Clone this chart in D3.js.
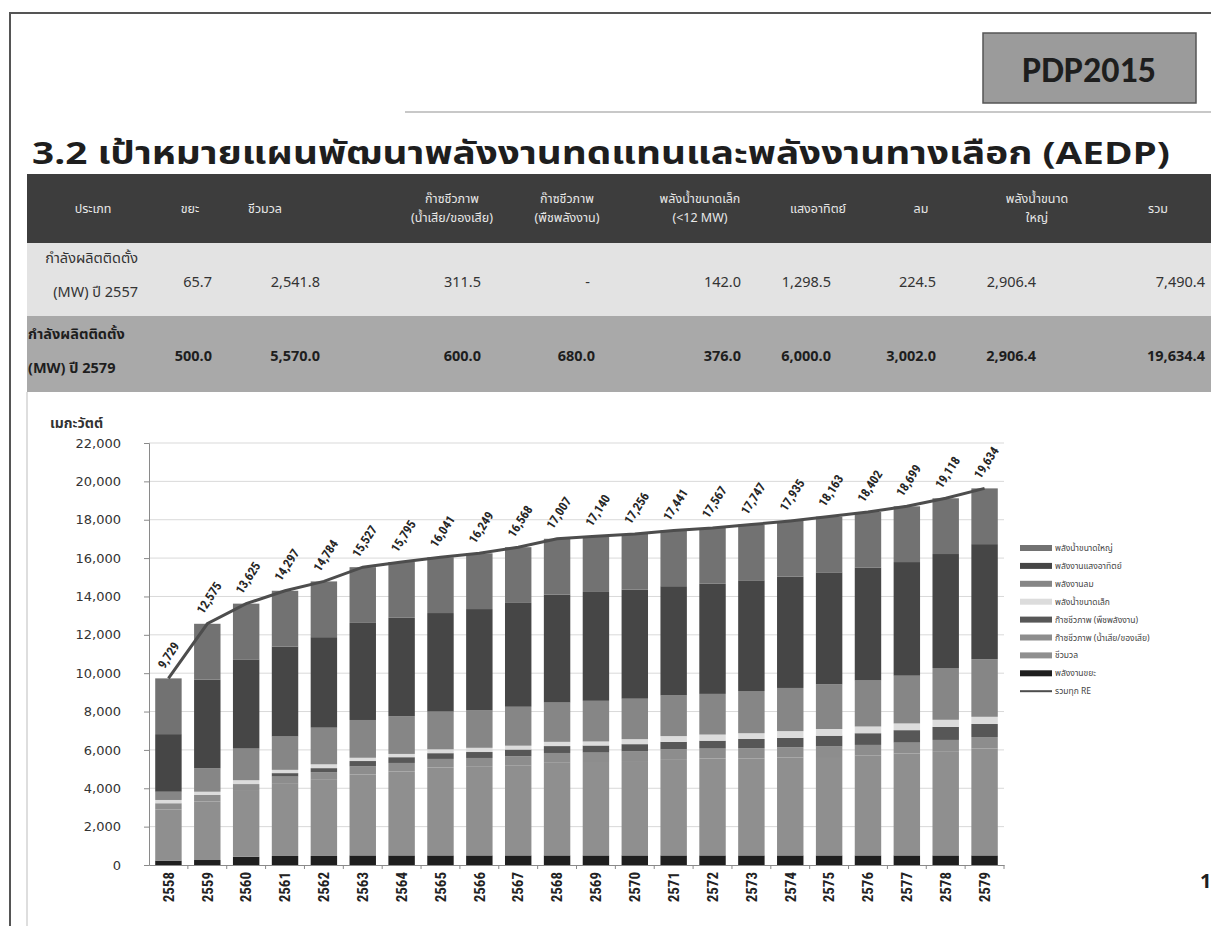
<!DOCTYPE html>
<html>
<head>
<meta charset="utf-8">
<script src="https://cdn.jsdelivr.net/npm/d3@7"></script>
<style>
  body { margin: 0; background: #fff; }
  svg { display: block; }
  text { font-family: Tahoma, "Noto Sans Thai", "Noto Sans", "DejaVu Sans", sans-serif; }
</style>
</head>
<body>
<div id="wrapper"></div>
<script>
// ---- data ----
const years = ["2558","2559","2560","2561","2562","2563","2564","2565","2566","2567","2568",
               "2569","2570","2571","2572","2573","2574","2575","2576","2577","2578","2579"]

// total RE (MW), the labels on the line
const totals = [9729,12575,13625,14297,14784,15527,15795,16041,16249,16568,17007,
                17140,17256,17441,17567,17747,17935,18163,18402,18699,19118,19634]

// stacked layers, bottom to top (MW, estimated from the bars)
const waste      = [230,260,430,470,470,500,500,500,500,500,500,500,500,500,500,500,500,500,500,500,500,500]
const biomass    = [2670,3050,3430,3760,3970,4220,4380,4580,4620,4700,4860,4870,4920,5020,5050,5060,5100,5130,5200,5310,5435,5570]
const biogasWW   = [320,340,360,380,400,420,440,450,460,470,480,490,500,510,520,530,540,550,560,570,585,600]
const biogasCrop = [0,0,0,180,210,280,300,300,310,350,360,370,380,390,410,480,490,560,610,650,680,680]
const smallHydro = [170,170,200,170,200,170,170,200,220,200,220,210,260,300,320,300,350,350,350,350,370,376]
const wind       = [430,1220,1650,1740,1910,1970,1970,1970,1950,2030,2050,2120,2110,2120,2120,2200,2250,2330,2400,2490,2700,3002]
const solar      = [3003,4629,4649,4691,4718,5061,5129,5135,5283,5412,5631,5674,5680,5695,5741,5771,5799,5837,5876,5923,5942,6000]
const largeHydro = [2906,2906,2906,2906,2906,2906,2906,2906,2906,2906,2906,2906,2906,2906,2906,2906,2906,2906,2906,2906,2906,2906]

const layerKeys   = ["waste","biomass","biogasWW","biogasCrop","smallHydro","wind","solar","largeHydro"]
const layerValues = [waste, biomass, biogasWW, biogasCrop, smallHydro, wind, solar, largeHydro]
const layerNames  = ["พลังงานขยะ","ชีวมวล","ก๊าซชีวภาพ (น้ำเสีย/ของเสีย)","ก๊าซชีวภาพ (พืชพลังงาน)",
                     "พลังน้ำขนาดเล็ก","พลังงานลม","พลังงานแสงอาทิตย์","พลังน้ำขนาดใหญ่"]
const totalName = "รวมทุก RE"

const yTicks = [0,2000,4000,6000,8000,10000,12000,14000,16000,18000,20000,22000]

// table above the chart
const tableHeaders = [["ประเภท"],["ขยะ"],["ชีวมวล"],["ก๊าซชีวภาพ","(น้ำเสีย/ของเสีย)"],["ก๊าซชีวภาพ","(พืชพลังงาน)"],
                      ["พลังน้ำขนาดเล็ก","(<12 MW)"],["แสงอาทิตย์"],["ลม"],["พลังน้ำขนาด","ใหญ่"],["รวม"]]
const row2557Label = ["กำลังผลิตติดตั้ง","(MW) ปี 2557"]
const row2557 = ["65.7","2,541.8","311.5","-","142.0","1,298.5","224.5","2,906.4","7,490.4"]
const row2579Label = ["กำลังผลิตติดตั้ง","(MW) ปี 2579"]
const row2579 = ["500.0","5,570.0","600.0","680.0","376.0","6,000.0","3,002.0","2,906.4","19,634.4"]

// ---- drawing ----
function drawSlide() {
  const width = 1211
  const height = 926

  const svg = d3.select("#wrapper").append("svg")
      .attr("width", width)
      .attr("height", height)

  // slide frame
  svg.append("line").attr("x1", 9).attr("x2", width).attr("y1", 13).attr("y2", 13)
      .attr("stroke", "#555").attr("stroke-width", 2)
  svg.append("line").attr("x1", 10).attr("x2", 10).attr("y1", 13).attr("y2", height)
      .attr("stroke", "#555").attr("stroke-width", 2)
  svg.append("line").attr("x1", 405).attr("x2", width).attr("y1", 112).attr("y2", 112)
      .attr("stroke", "#c8c8c8").attr("stroke-width", 2)

  // PDP2015 badge
  svg.append("rect").attr("x", 983).attr("y", 33).attr("width", 213).attr("height", 70)
      .attr("fill", "#9b9b9b").attr("stroke", "#555").attr("stroke-width", 1.5)
  svg.append("text").attr("x", 1089).attr("y", 82).attr("text-anchor", "middle")
      .attr("font-size", 36).attr("font-weight", "bold").attr("fill", "#1e1e1e")
      .style("font-family", "Calibri, Carlito, 'Open Sans', sans-serif")
      .text("PDP2015")

  // title
  svg.append("text").attr("x", 32).attr("y", 164)
      .attr("font-size", 31).attr("font-weight", "bold").attr("fill", "#1e1e1e")
      .attr("textLength", 1138).attr("lengthAdjust", "spacingAndGlyphs")
      .text("3.2 เป้าหมายแผนพัฒนาพลังงานทดแทนและพลังงานทางเลือก (AEDP)")

  // ---- table ----
  const tableLeft = 27
  const rows = [{ y: 174, h: 69, fill: "#3d3d3d" }, { y: 243, h: 73, fill: "#e3e3e3" }, { y: 316, h: 76, fill: "#a9a9a9" }]
  rows.forEach(r => svg.append("rect").attr("x", tableLeft).attr("y", r.y)
      .attr("width", width - tableLeft).attr("height", r.h).attr("fill", r.fill))

  const headerCenters = [93, 190, 265, 452, 567, 700, 818, 921, 1037, 1158]
  const valueRights = [212, 320, 481, 595, 741, 831, 936, 1036, 1205]

  const header = svg.append("g").attr("fill", "#e8e8e8").attr("font-size", 12.5)
  tableHeaders.forEach((lines, i) => {
    const y0 = lines.length === 1 ? 213 : 203
    lines.forEach((ln, j) => header.append("text")
        .attr("x", headerCenters[i]).attr("y", y0 + j * 19)
        .attr("text-anchor", "middle").text(ln))
  })

  const r1 = svg.append("g").attr("fill", "#333").attr("font-size", 14.5)
  row2557Label.forEach((ln, j) => r1.append("text").attr("x", 138).attr("y", 263 + j * 34)
      .attr("text-anchor", "end").text(ln))
  row2557.forEach((v, i) => r1.append("text")
      .attr("x", v === "-" ? valueRights[i] - 5 : valueRights[i]).attr("y", 287)
      .attr("text-anchor", "end").text(v))

  const r2 = svg.append("g").attr("fill", "#1e1e1e").attr("font-size", 14.5).attr("font-weight", "bold")
  row2579Label.forEach((ln, j) => r2.append("text").attr("x", 28).attr("y", 339 + j * 34)
      .attr("text-anchor", "start").text(ln))
  row2579.forEach((v, i) => r2.append("text").attr("x", valueRights[i]).attr("y", 361)
      .attr("text-anchor", "end").text(v))

  // chart box left edge
  svg.append("line").attr("x1", 27).attr("x2", 27).attr("y1", 392).attr("y2", height)
      .attr("stroke", "#bdbdbd")

  // ---- chart ----
  const dimensions = {
    margin: { top: 443, left: 149 },
    boundedWidth: 855,
    boundedHeight: 422,
  }

  const bounds = svg.append("g")
      .attr("transform", `translate(${dimensions.margin.left},${dimensions.margin.top})`)

  const xScale = d3.scaleBand()
      .domain(years)
      .range([0, dimensions.boundedWidth])
      .paddingInner(0.32)
      .paddingOuter(0.16)

  const yScale = d3.scaleLinear()
      .domain([0, 22000])
      .range([dimensions.boundedHeight, 0])

  // gridlines
  bounds.append("g")
    .selectAll("line")
    .data(yTicks.slice(1))
    .join("line")
      .attr("x1", 0).attr("x2", dimensions.boundedWidth)
      .attr("y1", d => yScale(d)).attr("y2", d => yScale(d))
      .attr("stroke", "#d9d9d9")

  // stack the layers
  const rowsData = years.map((yr, i) => {
    const o = { year: yr }
    layerKeys.forEach((k, j) => o[k] = layerValues[j][i])
    return o
  })
  const stacked = d3.stack().keys(layerKeys)(rowsData)

  // greys of the scanned slide; biomass and wastewater biogas look alike there
  const colorScale = d3.scaleOrdinal()
      .domain(layerKeys)
      .range(["#1f1f1f", "#8f8f8f", "#8d8d8d", "#575757", "#dcdcdc", "#868686", "#464646", "#727272"])

  bounds.append("g")
    .selectAll("g")
    .data(stacked)
    .join("g")
      .attr("fill", d => colorScale(d.key))
    .selectAll("rect")
    .data(d => d)
    .join("rect")
      .attr("x", d => xScale(d.data.year))
      .attr("y", d => yScale(d[1]))
      .attr("width", xScale.bandwidth())
      .attr("height", d => yScale(d[0]) - yScale(d[1]))

  // total line
  const lineGenerator = d3.line()
      .x((d, i) => xScale(years[i]) + xScale.bandwidth() / 2)
      .y(d => yScale(d))

  bounds.append("path")
      .datum(totals)
      .attr("d", lineGenerator)
      .attr("fill", "none")
      .attr("stroke", "#4d4d4d")
      .attr("stroke-width", 3)

  bounds.append("g")
    .selectAll("text")
    .data(totals)
    .join("text")
      .attr("transform", (d, i) => `translate(${xScale(years[i]) + xScale.bandwidth() / 2 - 4},${yScale(d) - 9}) rotate(-57)`)
      .attr("font-size", 12.5)
      .attr("font-weight", "bold")
      .attr("fill", "#262626")
      .style("font-family", "'Liberation Sans Narrow', 'Roboto Condensed', 'DejaVu Sans Condensed', sans-serif")
      .text(d => d3.format(",")(d))

  // y axis
  const yAxisGenerator = d3.axisLeft(yScale)
      .tickValues(yTicks)
      .tickFormat(d3.format(","))
      .tickSize(5)
      .tickPadding(23)

  const yAxis = bounds.append("g").call(yAxisGenerator)
  yAxis.select(".domain").attr("stroke", "#8a8a8a")
  yAxis.selectAll(".tick line").attr("stroke", "#8a8a8a")
  yAxis.selectAll("text")
      .attr("font-size", 13)
      .attr("fill", "#333")
      .style("font-family", "Verdana, 'DejaVu Sans', sans-serif")

  svg.append("text").attr("x", 50).attr("y", 428)
      .attr("font-size", 14).attr("font-weight", "bold").attr("fill", "#333")
      .text("เมกะวัตต์")

  // x axis
  const xAxisGenerator = d3.axisBottom(xScale).tickSize(0).tickPadding(0)
  const xAxis = bounds.append("g")
      .attr("transform", `translate(0,${dimensions.boundedHeight})`)
      .call(xAxisGenerator)
  xAxis.select(".domain").attr("stroke", "#8a8a8a")
  xAxis.selectAll("text")
      .attr("transform", "translate(0,7) rotate(-90)")
      .attr("text-anchor", "end")
      .attr("dy", "0.35em")
      .attr("dx", 0)
      .attr("y", 0)
      .attr("font-size", 15)
      .attr("font-weight", "bold")
      .attr("fill", "#222")
      .style("font-family", "'Liberation Sans Narrow', 'Roboto Condensed', 'DejaVu Sans Condensed', sans-serif")

  // tick marks between the bars
  const step = xScale.step()
  const firstEdge = xScale(years[0]) - xScale.paddingOuter() * step
  xAxis.append("g").selectAll("line")
    .data(years)
    .join("line")
      .attr("x1", (d, i) => firstEdge + (i + 1) * step)
      .attr("x2", (d, i) => firstEdge + (i + 1) * step)
      .attr("y1", 0).attr("y2", 4)
      .attr("stroke", "#8a8a8a")

  // legend
  const legendItems = layerKeys.map((k, i) => ({ key: k, name: layerNames[i] })).reverse()
  legendItems.push({ key: "total", name: totalName })
  const legend = svg.append("g").attr("transform", "translate(1020,548)")
  const item = legend.selectAll("g")
    .data(legendItems)
    .join("g")
      .attr("transform", (d, i) => `translate(0,${i * 17.9})`)
  item.append("rect")
      .attr("x", 0).attr("y", d => d.key === "total" ? -1 : -3)
      .attr("width", 32).attr("height", d => d.key === "total" ? 2 : 6)
      .attr("fill", d => d.key === "total" ? "#4d4d4d" : colorScale(d.key))
  item.append("text")
      .attr("x", 35).attr("y", 3)
      .attr("font-size", 8.5)
      .attr("fill", "#444")
      .text(d => d.name)

  // page number cut at the edge
  svg.append("text").attr("x", 1200).attr("y", 888)
      .attr("font-size", 20).attr("font-weight", "bold").attr("fill", "#1e1e1e")
      .text("1")
}

drawSlide()
</script>
</body>
</html>
